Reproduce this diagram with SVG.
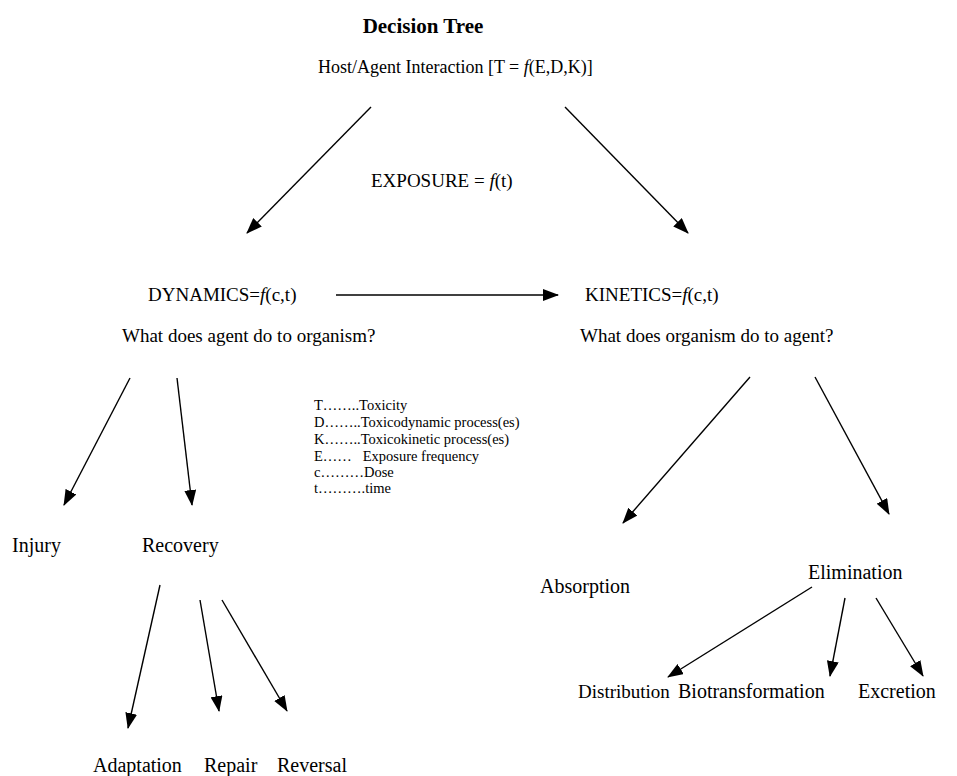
<svg xmlns="http://www.w3.org/2000/svg" width="957" height="776" viewBox="0 0 957 776">
<defs>
<marker id="ah" markerUnits="userSpaceOnUse" markerWidth="16" markerHeight="12" viewBox="0 0 16 12" refX="15" refY="6" orient="auto">
<path d="M0,0 L16,6 L0,12 Z" fill="#000"/>
</marker>
<style>
text{font-family:"Liberation Serif","Times New Roman",serif;fill:#000;font-size:19px}
.t{font-weight:bold;font-size:21px}
.h{font-size:18px}
.n{font-size:20px}
.lg{font-size:14.5px}
.c line{stroke:#000;stroke-width:1.4;marker-end:url(#ah)}
</style>
</defs>
<rect width="957" height="776" fill="#fff"/>
<g id="title"><text class="t" x="423" y="33" text-anchor="middle">Decision Tree</text></g>
<g id="host"><text class="h" x="318" y="73">Host/Agent Interaction [T = <tspan font-style="italic">f</tspan>(E,D,K)]</text></g>
<g id="exposure"><text x="371" y="187">EXPOSURE = <tspan font-style="italic">f</tspan>(t)</text></g>
<g id="dynamics"><text x="148" y="301">DYNAMICS=<tspan font-style="italic">f</tspan>(c,t)</text>
<text x="122" y="342">What does agent do to organism?</text></g>
<g id="kinetics"><text x="585" y="301">KINETICS=<tspan font-style="italic">f</tspan>(c,t)</text>
<text x="580" y="342">What does organism do to agent?</text></g>
<g id="legend">
<text class="lg" x="314" y="410">T……..Toxicity</text>
<text class="lg" x="314" y="427">D……..Toxicodynamic process(es)</text>
<text class="lg" x="314" y="444">K……..Toxicokinetic process(es)</text>
<text class="lg" x="314" y="461" xml:space="preserve">E……   Exposure frequency</text>
<text class="lg" x="314" y="477">c………Dose</text>
<text class="lg" x="314" y="493">t……….time</text>
</g>
<g id="injury"><text class="n" x="12" y="552">Injury</text></g>
<g id="recovery"><text class="n" x="142" y="552">Recovery</text></g>
<g id="adaptation"><text class="n" x="93" y="772">Adaptation</text></g>
<g id="repair"><text class="n" x="204" y="772">Repair</text></g>
<g id="reversal"><text class="n" x="277" y="772">Reversal</text></g>
<g id="absorption"><text class="n" x="540" y="593">Absorption</text></g>
<g id="elimination"><text class="n" x="808" y="579">Elimination</text></g>
<g id="distribution"><text x="578" y="698">Distribution</text></g>
<g id="biotransformation"><text class="n" x="678" y="698">Biotransformation</text></g>
<g id="excretion"><text class="n" x="858" y="698">Excretion</text></g>
<g class="c" id="connectors">
<line x1="371" y1="107" x2="247" y2="233"/>
<line x1="565" y1="107" x2="688" y2="233"/>
<line x1="336" y1="295" x2="558" y2="295"/>
<line x1="130" y1="378" x2="64" y2="505"/>
<line x1="177" y1="378" x2="192" y2="505"/>
<line x1="160" y1="585" x2="128" y2="728"/>
<line x1="200" y1="600" x2="219" y2="711"/>
<line x1="222" y1="600" x2="287" y2="711"/>
<line x1="750" y1="377" x2="623" y2="523"/>
<line x1="815" y1="377" x2="889" y2="514"/>
<line x1="812" y1="587" x2="668" y2="677"/>
<line x1="845" y1="598" x2="830" y2="676"/>
<line x1="876" y1="598" x2="923" y2="676"/>
</g>
</svg>
